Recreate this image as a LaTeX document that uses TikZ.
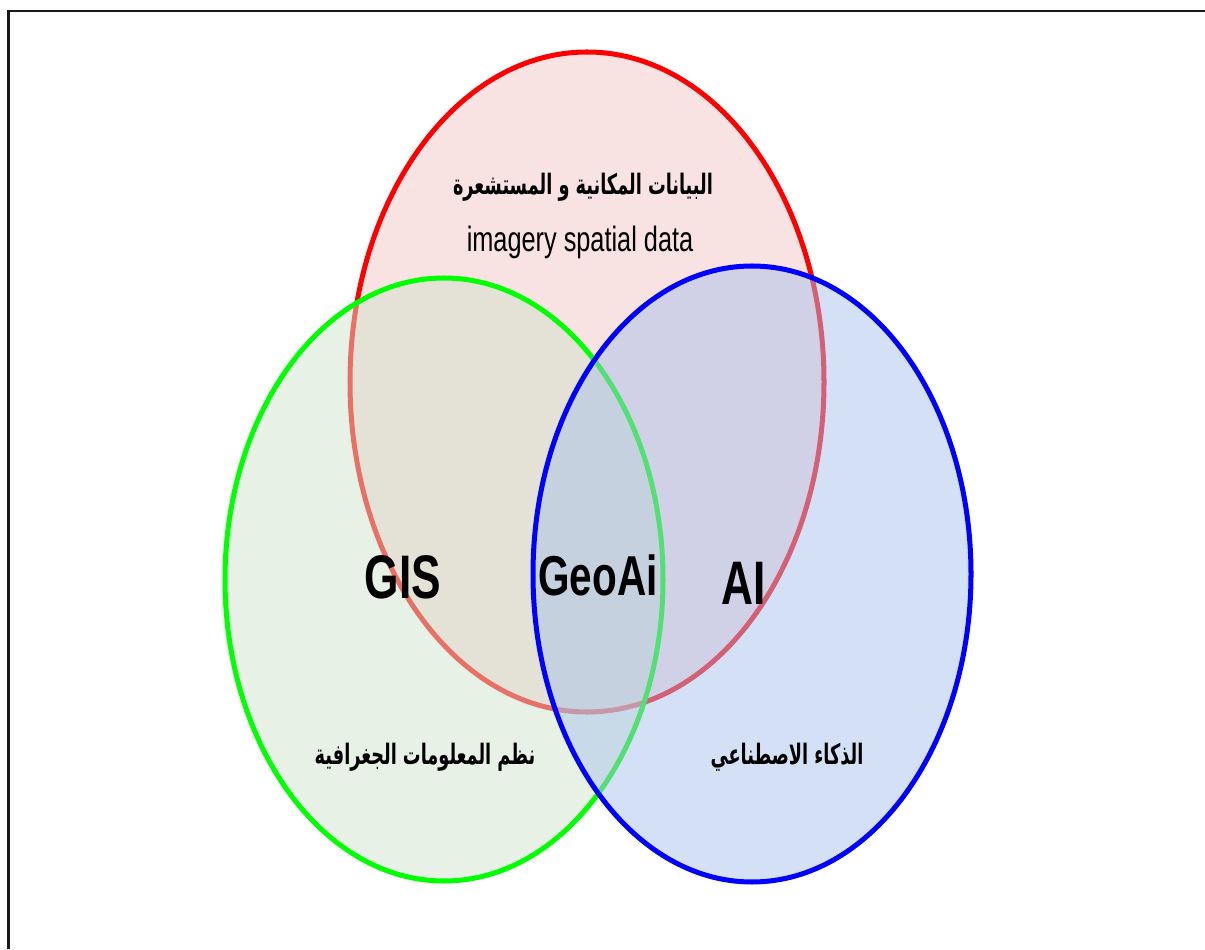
\documentclass[tikz,border=0pt]{standalone}
\usepackage{fontspec}
\setmainfont{Liberation Sans}
\newfontfamily\narrowfont[FakeStretch=0.72]{Liberation Sans}
\newfontfamily\arabicfont[Script=Arabic,FakeStretch=0.63]{DejaVu Sans}
\TeXXeTstate=1
\definecolor{redfill}{RGB}{241,197,197}
\definecolor{greenfill}{RGB}{209,227,205}
\definecolor{bluefill}{RGB}{169,193,235}
\tikzset{
	setline/.style={line width=2.85pt, fill opacity=0.5},
	biglabel/.style={font=\narrowfont\bfseries\fontsize{35}{40}\selectfont},
	smalllabel/.style={font=\narrowfont\fontsize{20}{24}\selectfont},
	arlabel/.style={font=\arabicfont\bfseries\fontsize{16}{20}\selectfont}
}
\begin{document}
\begin{tikzpicture}
	\useasboundingbox (0,0) rectangle (24.1,18.98);
	\draw[line width=1.4pt, black!90] (0.17,0) -- (0.17,18.76) -- (24.1,18.76);
	% the three sets
	\draw[setline, red, fill=redfill] (11.74,11.34) ellipse [x radius=4.74, y radius=6.6];
	\draw[setline, green, fill=greenfill] (8.88,7.39) ellipse [x radius=4.38, y radius=6.03];
	\draw[setline, blue, fill=bluefill] (15.04,7.5) ellipse [x radius=4.38, y radius=6.16];
	% labels
	\node[arlabel] (spatialar) at (11.66,15.24) {\beginR البيانات المكانية و المستشعرة\endR};
	\node[smalllabel] (spatial) at (11.6,14.14) {imagery spatial data};
	\node[biglabel] (gis) at (8.06,7.44) {GIS};
	\node[biglabel, font=\narrowfont\bfseries\fontsize{32}{36}\selectfont] (geoai) at (11.96,7.48) {GeoAi};
	\node[biglabel] (ai) at (14.88,7.32) {AI};
	\node[arlabel] (gisar) at (8.5,3.84) {\beginR نظم المعلومات الجغرافية\endR};
	\node[arlabel] (aiar) at (15.74,3.84) {\beginR الذكاء الاصطناعي\endR};
\end{tikzpicture}
\end{document}
